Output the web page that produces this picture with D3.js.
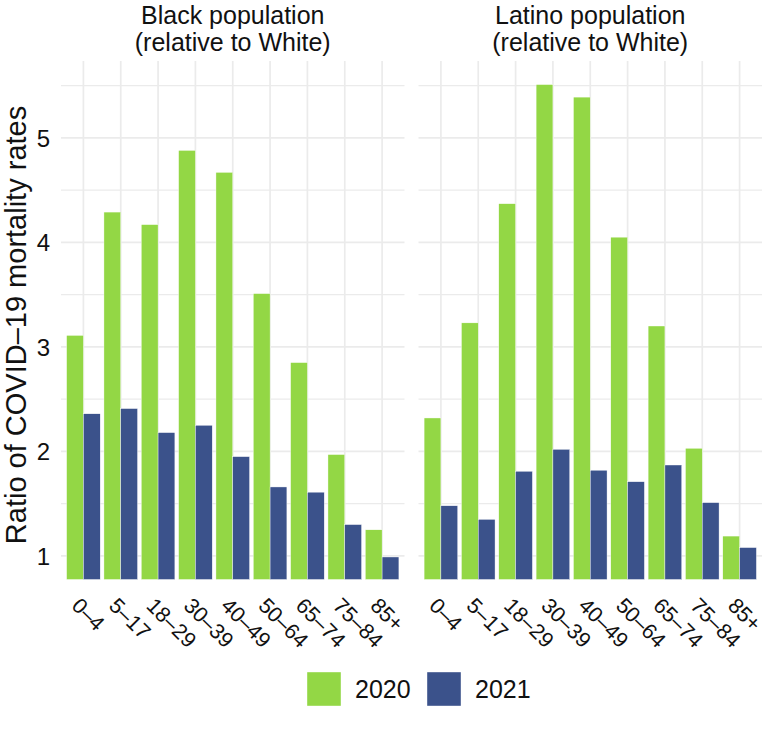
<!DOCTYPE html>
<html>
<head>
<meta charset="utf-8">
<script src="https://cdn.jsdelivr.net/npm/d3@7"></script>
<style>
  html, body { margin: 0; padding: 0; background: #fff; }
  svg { display: block; font-family: "Liberation Sans", Arial, Helvetica, sans-serif; }
</style>
</head>
<body>
<svg id="chart" width="768" height="735"></svg>
<script>
// ---- data ----
const ageGroups = ["0–4", "5–17", "18–29", "30–39", "40–49", "50–64", "65–74", "75–84", "85+"];
const years = ["2020", "2021"];
const panelTitles = [["Black population", "(relative to White)"], ["Latino population", "(relative to White)"]];
const black2020 = [3.11, 4.29, 4.17, 4.88, 4.67, 3.51, 2.85, 1.97, 1.25];
const black2021 = [2.36, 2.41, 2.18, 2.25, 1.95, 1.66, 1.61, 1.30, 0.99];
const latino2020 = [2.32, 3.23, 4.37, 5.51, 5.39, 4.05, 3.20, 2.03, 1.19];
const latino2021 = [1.48, 1.35, 1.81, 2.02, 1.82, 1.71, 1.87, 1.51, 1.08];
const yTicks = [1, 2, 3, 4, 5];
const yMinorTicks = [1.5, 2.5, 3.5, 4.5, 5.5];
const colors = ["#93D745", "#3B528B"];

const panels = [
  { title: panelTitles[0], series: [black2020, black2021] },
  { title: panelTitles[1], series: [latino2020, latino2021] }
];

// ---- layout ----
const svg = d3.select("#chart");
const panelTop = 61, panelBottom = 579.5;
const panelX = [[61, 404.5], [418.5, 762]];

const allVals = [].concat(black2020, black2021, latino2020, latino2021);
const yLo = 1, yHi = d3.max(allVals);
const pad = (yHi - yLo) * 0.05;
const y = d3.scaleLinear().domain([yLo - pad, yHi + pad]).range([panelBottom, panelTop]);

const grid = "#EBEBEB";
const ink = "#111111";

panels.forEach((p, pi) => {
  const [x0, x1] = panelX[pi];
  const x = d3.scalePoint().domain(ageGroups).range([x0, x1]).padding(0.6);
  const step = x.step();
  const bw = step * 0.45;
  const g = svg.append("g");

  // minor grid
  g.selectAll(".ymin").data(yMinorTicks).join("line")
    .attr("x1", x0).attr("x2", x1)
    .attr("y1", d => y(d)).attr("y2", d => y(d))
    .attr("stroke", grid).attr("stroke-width", 1.2);
  // major grid
  g.selectAll(".ymaj").data(yTicks).join("line")
    .attr("x1", x0).attr("x2", x1)
    .attr("y1", d => y(d)).attr("y2", d => y(d))
    .attr("stroke", grid).attr("stroke-width", 1.7);
  g.selectAll(".xmaj").data(ageGroups).join("line")
    .attr("x1", d => x(d)).attr("x2", d => x(d))
    .attr("y1", panelTop).attr("y2", panelBottom)
    .attr("stroke", grid).attr("stroke-width", 1.7);

  // bars
  p.series.forEach((vals, si) => {
    g.selectAll(".bar" + si).data(ageGroups).join("rect")
      .attr("x", (d) => x(d) - bw + si * bw)
      .attr("width", bw)
      .attr("y", (d, i) => y(vals[i]))
      .attr("height", (d, i) => panelBottom - y(vals[i]))
      .attr("fill", colors[si])
      .attr("stroke", "#ffffff").attr("stroke-width", 0.4);
  });

  // panel title
  const cx = (x0 + x1) / 2;
  g.append("text").attr("x", cx).attr("y", 24)
    .attr("text-anchor", "middle").attr("font-size", 25).attr("fill", ink)
    .text(p.title[0]);
  g.append("text").attr("x", cx).attr("y", 51)
    .attr("text-anchor", "middle").attr("font-size", 25).attr("fill", ink)
    .text(p.title[1]);

  // x labels
  g.selectAll(".xl").data(ageGroups).join("text")
    .attr("transform", d => `translate(${x(d) - 2},${596}) rotate(45)`)
    .attr("dy", "0.72em")
    .attr("text-anchor", "start")
    .attr("font-size", 21.5).attr("fill", ink)
    .text(d => d);
});

// y tick labels
svg.selectAll(".yl").data(yTicks).join("text")
  .attr("x", 50).attr("y", d => y(d))
  .attr("dy", "0.36em")
  .attr("text-anchor", "end")
  .attr("font-size", 24).attr("fill", ink)
  .text(d => d);

// y title
svg.append("text")
  .attr("transform", `translate(26,${325}) rotate(-90)`)
  .attr("text-anchor", "middle").attr("font-size", 29).attr("fill", ink)
  .text("Ratio of COVID–19 mortality rates");

// legend
const legX = [307, 427];
years.forEach((yr, i) => {
  svg.append("rect").attr("x", legX[i]).attr("y", 672).attr("width", 34).attr("height", 34)
    .attr("fill", colors[i]).attr("stroke", "#ffffff").attr("stroke-width", 0.4);
  svg.append("text").attr("x", legX[i] + 48).attr("y", 689).attr("dy", "0.36em")
    .attr("font-size", 25).attr("fill", ink).text(yr);
});
</script>
</body>
</html>
